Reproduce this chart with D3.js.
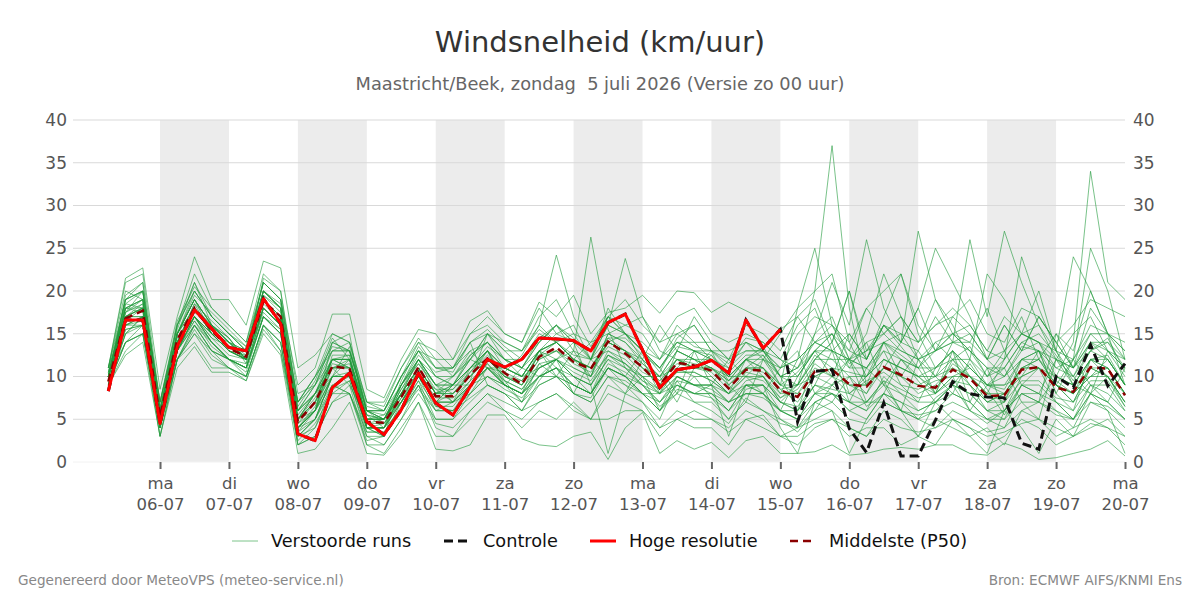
<!DOCTYPE html>
<html>
<head>
<meta charset="utf-8">
<script src="https://cdn.jsdelivr.net/npm/d3@7"></script>
<style>
  body { margin: 0; background: #fff; font-family: "DejaVu Sans", sans-serif; }
  .axis text { fill: #555; font-size: 16px; font-family: "DejaVu Sans", sans-serif; }
  .axis path { display: none; }
  .axis line { stroke: #666; }
</style>
</head>
<body>
<div id="chart"></div>
<script>
// tijdstappen: uren na 05-07 00:00 (6-uurlijks)
var stepHours = 6, firstHour = 6;
var dayNames = ["ma","di","wo","do","vr","za","zo","ma","di","wo","do","vr","za","zo","ma"];
var dayDates = ["06-07","07-07","08-07","09-07","10-07","11-07","12-07","13-07","14-07","15-07","16-07","17-07","18-07","19-07","20-07"];
var yTicks = [0,5,10,15,20,25,30,35,40];

// Hoge resolutie (tot 15-07 00:00)
var hires = [8.3,16.6,16.6,4.5,13.5,17.8,15.6,13.4,13.0,19.1,16.2,3.3,2.5,8.7,10.4,4.7,3.2,6.1,10.4,6.9,
  5.5,8.8,12.0,11.1,12.0,14.5,14.4,14.2,13.0,16.3,17.3,13.1,8.7,10.8,11.1,11.9,10.4,16.6,13.3,15.5];

// Controle
var controle = [8.3,16.6,16.6,4.5,13.5,17.8,15.6,13.4,13.0,19.1,16.2,3.3,2.5,8.7,10.4,4.7,3.2,6.1,10.4,6.9,
  5.5,8.8,12.0,11.1,12.0,14.5,14.4,14.2,13.0,16.3,17.3,13.1,8.7,10.8,11.1,11.9,10.4,16.6,13.3,15.5,
  4.7,10.6,10.8,3.9,1.1,6.9,0.7,0.7,4.9,9.4,8.0,7.6,7.5,2.2,1.5,10.0,8.7,13.7,8.9,11.5];

// Middelste (P50)
var mediaan = [9.4,16.8,17.7,5.3,14.3,18.0,15.4,13.3,12.3,18.8,17.0,4.7,7.0,11.2,10.9,4.7,4.6,7.6,11.1,7.7,
  7.7,10.2,12.1,10.4,9.1,12.3,13.4,11.7,10.9,14.1,12.7,11.1,9.0,11.6,11.3,10.7,8.6,10.8,10.7,8.4,
  7.6,10.6,10.8,9.1,8.8,11.1,10.2,8.9,8.7,10.8,9.8,7.7,7.8,10.8,11.1,8.7,8.2,11.1,10.9,7.8];

// Verstoorde runs
var runs = [
 [10,18,19,5,15,19,16,14,12,20, 18,4,6,12,12,4,4,8,12,9, 7,11,13,9,8,13,14,12,10,15, 14,12,8,13,12,10,8,12,10,7, 6,12,14,8,10,13,9,7,11,12, 9,6,7,12,13,8,6,12,10,7],
 [10,16,17,6,13,17,14,12,11,18, 16,6,8,10,10,6,5,7,10,7, 9,9,11,11,10,11,12,13,12,13, 12,10,10,11,13,12,10,10,12,9, 9,10,9,10,8,12,11,10,8,10, 11,9,9,10,11,10,9,10,12,9],
 [11,21,22,7,16,22,18,16,14,22, 20,8,9,14,13,7,6,10,13,10, 9,12,15,12,11,14,16,14,13,17, 15,13,11,14,14,12,11,13,13,10, 11,15,17,12,14,15,13,12,14,15, 13,10,12,15,16,12,11,14,13,10],
 [9,13,15,3,12,15,12,11,10,16, 13,2,3,7,9,2,2,5,8,5, 5,7,9,8,6,9,10,9,8,11, 10,8,6,9,8,8,6,9,8,5, 4,7,8,6,5,8,7,5,6,8, 7,5,4,8,7,6,4,8,7,5],
 [10,17,18,4,14,18,15,13,12,19, 17,3,5,10,12,4,4,7,11,7, 8,10,12,10,9,12,13,11,10,14, 13,11,9,12,11,11,9,11,11,8, 12,20,37,18,9,11,10,9,8,12, 10,7,8,11,12,9,7,11,10,8],
 [9.5,19.5,21,6,15.5,21,16,14.5,12,21.5, 20,6.5,9.5,14.5,12,5.5,4,9.5,13.5,11, 10.5,14,9,8,6,9.5,12,8,7.5,11, 9,7,5,9.5,7,6,4.5,7.5,6,5, 3.5,6,9,12,7,9.5,6,5,7.5,9, 6,4.5,6,8,7,10,14,34,21,19],
 [10,14,15,5.5,12,15.5,12.5,11,10,16, 14,2.5,4.5,8,9.5,3,3,6,9.5,5, 5,8,11,10.5,12.5,16,24.2,17,13.5,17, 15,13,10.5,14.5,16,13,11.5,14,13,12, 10,13,15,11.5,13,16,13.5,11,14,12, 13.5,10,11,14,15,12.5,9.5,13,14.5,10.5],
 [10.5,17.5,20,5,15,19.5,17.5,15.5,13.5,20, 18.5,4,6,12.5,12.5,4.5,5,8.5,11.5,9, 8,10.5,13,9.5,7,11.5,10,13,26.3,15.5, 11,9,6.5,8,10,7.5,5,8.5,9,6, 5,8,7,10,6.5,8,12,9.5,7,9, 11.5,8.5,5.5,9,11,7,5,8,10,6.5],
 [9,16,16.5,6,14,17,14.5,12.5,12,18, 16,5,8,11,9,5,5.5,7,10.5,7, 9,11,13.5,12,10,13,15,14,12,16, 23.8,17,13,12,11,12.5,9.5,12,13.5,10, 9,12.5,11,10.5,10,14,12,10,8.5,11.5, 10,9,8.5,12,13,9.5,8,12,12.5,9],
 [10,19,21,6,16,21,17,15,13,21, 19,7,9,14,13,6,6,10,14,11, 11,14,15,13,13,16,14,12,14,15, 16,17,14,15,16,13,13,14,12,11, 15,17,16,14,18,20,22,16,13,15, 16,13,12,15,14,11,12,16,15,13],
 [9,15,16,4,12,16,13,12,11,17, 15,2,4,8,8,3,2,5,9,4, 3,5,7,6,4,6,5,7,5,8, 7,6,3,5,4,4,2,5,4,3, 2,4,5,3,4,4,2,3,2,5, 4,2,3,5,4,2,3,4,5,3],
 [10,17,17,5,14,17,15,13,12,18, 16,5,8,13,14,6,5,9,12,9, 10,12,14,11,10,13,11,10,9,12, 11,9,7,10,9,8,6,9,8,6, 5,8,9,7,6,10,8,6,7,9, 8,6,5,9,8,7,5,9,8,6],
 [11,20,19,7,15,19,16,14,12,20, 18,5,6,14,15,4,3,9,13,12, 12,15,16,14,13,17,19,15,12,18, 15,12,16,13,17,14,12,16,15,13, 17,19,14,20,13,15,17,14,19,15, 14,18,13,17,12,15,13,20,15,14],
 [9,14,15,4,12,15,13,11,10,16, 14,3,5,9,10,4,4,6,9,6, 7,8,10,9,7,10,11,9,8,11, 10,8,7,9,8,9,7,8,8,6, 10,13,15,11,14,9,12,11,8,10, 6,9,11,7,5,12,9,8,6,4],
 [10,18.5,18,5,14,18.5,16.5,14.5,11.5,19.5, 17.5,6,9,12,12.5,5,5,8.5,12,10, 9,12.5,14,12,11,14.5,16,13,10,15, 14,11.5,10,13,12,11,9.5,11,12.5,9, 10.5,13,12,12,11,14,12.5,11,13,15, 13,11,10,13.5,13,11,10,13,14,11],
 [10.5,17.5,18.5,4.5,15,19,15,13,12.5,20, 18,3.5,5,10,13.5,6,4.5,8,10,8.5, 7,9.5,15,13,11,13,12,10,8,12.5, 11,10,8,10,9,8.5,7,9.5,10,7, 9,15,21,16,26,18,14,27,19,16, 12,9,10,13,14,10,9,12,11,8],
 [10,16.5,18,5,14,18,15,13,12,19, 17,5,7.5,11.5,11,5.5,5,8,11,8, 8.5,10.5,12.5,10.5,9.5,12.5,13,11.5,10.5,13.5, 12.5,10.5,9.5,11.5,11,10.5,8.5,11,10.5,8.5, 7,10,11,9,8,11,10,9,10,14, 26,17,27,21,16,13,10,14,12,9],
 [9,15.5,16,4,13.5,16.5,14,12,11.5,17.5, 15.5,4.5,7,10,10,4,4,7.5,10.5,6.5, 6.5,9,11.5,9,8,11,12,10,9,13, 11.5,9.5,8,11,10,10,8,10,9.5,7.5, 8.5,11.5,10,8,9.5,10.5,9,8.5,9.5,10, 10,8,12,24,18,13,24,20,15,9],
 [10,18,19,6,15,19,16,14,13,20, 18,6,8,12,12,6,5,9,12,9, 9,11,13,11,10,13,14,12,11,14, 13,11,10,12,12,11,10,12,11,9, 18,25,16,12,15,22,17,12,10,11, 9,7,8,10,11,9,8,10,11,8],
 [9,16,17,4,13,17,14,12,11,18, 16,3,5,10,10,4,3,7,10,6, 6,9,11,9,8,11,12,10,9,1, 8,10,6,10,9,9,3,9,9,4, 1,7,6,1,5,8,6,3,7,5, 3,1,6,4,1,5,3,7,6,1],
 [10,17,18.5,6,15,18,16,14,12.5,19, 17,5,7,12,11,5,5,8,11,8, 9,11,12,10,9,12,13,12,11,14, 13,11,9,12,11,11,9,11,11,9, 8,11,10,9,9,11,10,8,9,11, 10,8,7,11,11,9,7,11,10,7],
 [10,17,18,5,14,18,15,13,12,19, 17,5,7,11,12,5,5,8,11,8, 8,10,13,11,10,13,14,12,11,14, 15,13,11,14,13,12,10,12,13,10, 11,14,15,13,12,16,15,14,16,17, 19,15,14,18,17,14,16,19,18,17],
 [9,16,16,5,13,16,14,12,11,17, 15,4,6,10,10,4,4,7,10,7, 7,9,11,9,8,10,10,9,8,11, 10,9,8,10,9,9,8,9,9,7, 6,9,8,7,7,9,8,7,7,9, 8,6,6,9,9,7,6,9,9,6],
 [10,18,17.5,5.5,14.5,17.5,16,14.5,12,19, 16.5,7,10,13,13,6,5.5,9,12.5,10.5, 11,13,11,9,8,10,11,8,7,10, 9,8,6,8,7,7,5,7,6,4.5, 4,6,7,5,4.5,7,6,5,4,6, 5,3.5,4,6,7,15,11,13,12,9],
 [10,17,17,5,14,17,15,13,12,18, 16,4.5,6,10,10.5,4,4.5,7,10,7, 7,9,11,9.5,8.5,11,12,10.5,9.5,12.5, 11.5,10,8.5,10.5,10.5,9.5,8,10.5,10,8, 8,10,11,9,9,11,14,18,25,21, 17,12,10,12,11,9,8,11,11,8],
 [9,17.5,19,5,14,18.5,15,14,13,19.5, 18,5.5,8,11,11.5,5.5,5,9,11.5,8.5, 8.5,11,13,10,9.5,12.5,14,12,11,14.5, 13,11.5,9.5,12,11.5,11,9.5,12,11,8.5, 9,12,12,10,10,12,11,10,10,12, 12,22,19,15,20,13,9,12,11,8],
 [10,18,19,6,15,19,16,14,12,19, 17,5,7,12,12,5,5,8,11,8, 10,12.5,14,12,12,15,14,12.5,12,14.5, 14.5,12.5,11,13.5,13,12.5,10.5,12.5,12.5,10, 10,13,13,11,11,13,12,11,11,13, 10,8,8,11,11,9,12,25,20,12],
 [11,17,18,4.5,13,17,14.5,13.5,12,18.5, 16.5,4,6.5,11,11,4.5,4.5,7.5,10.5,7.5, 7.5,9.5,11.5,9.5,8.5,11.5,12,11,10,12.5, 11.5,9.5,8.5,10.5,10.5,9.5,8,10,10,7.5, 9,12,14,20,12,17,22,15,11,13, 11,9,8,11,12,9,8,10,10,7],
 [9,15,17,4,13,17,14,12,11,17, 15,4,6,10,10,4,4,7,10,7, 7,9,10,9,8,10,11,9,8,11, 10,8,8,9,8,8,7,8,8,6, 6,8,8,7,6,8,7,6,7,8, 7,5,6,8,8,6,5,8,7,5],
 [10,18,18,6,15,18,16,14,12,19, 17,6,8,12,12,6,6,9,12,9, 9,11,13,11,10,13,14,12,11,14, 13,12,10,13,12,12,10,12,12,15, 18,20,22,14,10,12,11,10,11,13, 11,9,9,12,12,10,9,12,12,9],
 [10,19,20,7,16,20,17,15,13,20, 18,7,10,15,14,7,7,11,14,13, 11,15,17,15,14,18,15,16,12,17, 19,16,14,17,18,15,14,15,14,12, 11,13,10,15,12,16,14,13,17,14, 15,12,16,13,17,14,11,15,13,11],
 [9,14,16,3,12,16,13,12,10,16, 14,2,3,7,8,2,1,4,7,3, 3,6,8,6,5,7,8,6,5,5, 6,6,4,5,6,5,4,6,5,3, 4,5,6,4,3,6,5,3,5,4, 3,4,2,6,5,3,4,5,4,2],
 [10,17,18,5,14,18,15,13,12,19, 17,4,6,11,11,4,4,8,11,8, 8,10,12,10,9,13,10,8,12,10, 8,12,10,7,11,13,9,7,12,10, 6,9,13,7,11,9,6,12,8,13, 7,11,6,10,13,8,12,9,7,11],
 [10,16,17,5,14,17,15,13,12,18, 16,5,8,12,11,5,5,8,12,8, 9,12,11,9,11,10,12,14,9,12, 10,13,11,8,13,9,12,10,8,11, 13,8,10,12,9,14,10,13,10,8, 12,10,13,9,8,12,10,8,13,11],
 [11,19,20,6,15,20,17,15,13,21, 19,6,9,13,13,6,6,10,13,10, 10,13,14,12,11,14,16,14,13,16, 15,13,12,14,13,13,12,13,13,11, 12,14,13,12,11,14,13,12,13,14, 13,11,11,14,13,12,11,14,14,12],
 [10.5,19,20,7,16.5,20.5,18,16,14,21, 19,9,11,17.3,17.3,8.5,7.5,12,15.5,15, 12,16.5,17.7,15,14,18.7,17,19.5,15,17.5, 18,19.5,17.4,20,19.8,17.5,18.7,17.7,16.7,15.5, 17,14,16,13,18,15,17,14,16,18, 16,13,17,15,14,12,15,17,13,12],
 [9,12.5,14,3,11,13.5,10.5,10.5,9.5,15, 12.5,1,1.5,4,7,1,0.8,3.3,7,1.5, 1.3,2,5.5,5.5,2.7,2,1.8,3,3.5,0.3, 4,5.8,1,2.5,1.5,2.3,0.5,2.5,3,1, 1,1.2,2,0.8,1,1.5,1.7,1.5,2,2, 1,0.8,2.2,1.5,0.3,0.5,1,1.5,2.5,0.7],
 [9.5,15,17,4,13,16,13,12,11,17, 15.5,3,4,9,8,2.5,3,6,9,4.5, 4,6,8,7,6,7,8,6.5,5,9, 8,7,4,6,5,5,3.5,5,5.5,3, 3,4.5,5,4,3,5,4,3.5,4,5, 4,3,3.5,4.5,5,4,3,4.5,4,3],
 [11,21.5,22.7,8.5,17,24,19,19,16,23.5, 22.7,11,12.5,15,14,7,6.5,11,14.5,12, 10,12,15,14,13,15.5,14,15,14,17, 16,15,12,15,13.5,13,11,14,13,11, 12,14,13,12,13,14,15,12,13,14, 14,12,13,15,14,13,12,15,15,12],
 [9,14,15,4,12,14,11,11,9.5,15.5, 13,3.5,6,9,8,3.5,3.5,6,8.5,6, 6,7.5,9,8,7,9,10,8,7,10, 9.5,8,6,8.5,8,7.5,6,8,7.5,6, 5,7,8,6,7,7,6,5.5,6,7, 6,5,5,7,7,5.5,5,7,6.5,5],
 [10,18.5,20,6.5,16,20,17,15,13.5,21, 19,7,10,13.5,13,6.5,6,10,13,11, 11,14,15.5,13.5,12,14,16,14.5,12,16, 15,14,12,16,14,14,12,14.5,14,12, 16,18,13,15,12,16,14,18,13,17, 15,12,16,13,17,14,11,18,15,13],
 [9.5,15.5,16,4.5,13,16.5,13.5,12,10.5,17, 15,4,5,8.5,9.5,3.5,3.5,6.5,9.5,6.5, 6,8,10,8.5,7.5,10,11,9,8,11.5, 10.5,9,7,9.5,9,9,7,9,9,7, 6.5,9,8.5,8,7,9.5,8.5,7.5,8,9.5, 9,7,7,9.5,9.5,7.5,7,9.5,9.5,6.5]
];

(function(){
var width = 1200, height = 600;
var pLeft = 73, pRight = 1125, pTop = 120, pBottom = 462;

var svg = d3.select("#chart").append("svg")
  .attr("width", width)
  .attr("height", height)
  .style("font-family", "'DejaVu Sans', sans-serif");

var x = d3.scaleLinear().domain([-6.3, 360]).range([pLeft, pRight]);
var y = d3.scaleLinear().domain([0, 40]).range([pBottom, pTop]);

function hourOf(i) { return firstHour + i * stepHours; }
var dayHours = dayDates.map(function(d, i){ return 24 * (i + 1); });

// grijze banden om de dag
var bands = dayHours.filter(function(h, i){ return i % 2 == 0 && i < dayHours.length - 1; });
svg.selectAll(".band").data(bands).enter().append("rect")
  .attr("class", "band")
  .attr("x", function(d){ return x(d); })
  .attr("width", function(d){ return x(d + 24) - x(d); })
  .attr("y", pTop)
  .attr("height", pBottom - pTop)
  .attr("fill", "#ececec");

// rasterlijnen
svg.selectAll(".grid").data(yTicks).enter().append("line")
  .attr("class", "grid")
  .attr("x1", pLeft).attr("x2", pRight)
  .attr("y1", function(d){ return y(d); })
  .attr("y2", function(d){ return y(d); })
  .attr("stroke", function(d){ return d == 0 ? "#f2f2f2" : "#d9d9d9"; })
  .attr("stroke-width", 1);

// assen
svg.append("g").attr("class", "axis")
  .attr("transform", "translate(" + pLeft + ",0)")
  .call(d3.axisLeft(y).tickValues(yTicks).tickSize(0).tickPadding(6));
svg.append("g").attr("class", "axis")
  .attr("transform", "translate(" + pRight + ",0)")
  .call(d3.axisRight(y).tickValues(yTicks).tickSize(0).tickPadding(8));
svg.selectAll(".axis text").style("font-size", "17px");

var xa = svg.append("g").attr("class", "axis")
  .attr("transform", "translate(0," + pBottom + ")")
  .call(d3.axisBottom(x).tickValues(dayHours).tickSize(7).tickFormat(""));
xa.selectAll("line").attr("stroke", "#666").attr("stroke-width", 2);
xa.selectAll(".tick").append("text")
  .attr("fill", "#555")
  .attr("text-anchor", "middle")
  .style("font-size", "16.5px")
  .each(function(d, i){
    var t = d3.select(this);
    t.append("tspan").attr("x", 0).attr("y", 27).text(dayNames[i]);
    t.append("tspan").attr("x", 0).attr("y", 48).text(dayDates[i]);
  });

var line = d3.line()
  .x(function(d, i){ return x(hourOf(i)); })
  .y(function(d){ return y(d); });

// verstoorde runs
svg.append("g").selectAll(".run").data(runs).enter().append("path")
  .attr("class", "run")
  .attr("d", line)
  .attr("fill", "none")
  .attr("stroke", "#1f9a3a")
  .attr("stroke-opacity", 0.6)
  .attr("stroke-width", 1);

svg.append("path").datum(mediaan)
  .attr("d", line).attr("fill", "none")
  .attr("stroke", "#8b0000").attr("stroke-width", 2.5)
  .attr("stroke-dasharray", "8,5");

svg.append("path").datum(controle)
  .attr("d", line).attr("fill", "none")
  .attr("stroke", "#111").attr("stroke-width", 3)
  .attr("stroke-dasharray", "9,5");

svg.append("path").datum(hires)
  .attr("d", line).attr("fill", "none")
  .attr("stroke", "#ff0000").attr("stroke-width", 3)
  .attr("stroke-linejoin", "round");

// titels
svg.append("text").attr("x", 600).attr("y", 52).attr("text-anchor", "middle")
  .attr("fill", "#333").style("font-size", "29px").text("Windsnelheid (km/uur)");
svg.append("text").attr("x", 600).attr("y", 90).attr("text-anchor", "middle")
  .attr("fill", "#666").style("font-size", "17.8px").text("Maastricht/Beek, zondag\u00a0 5 juli 2026 (Versie zo 00 uur)");

// legenda
var legend = [
  {label: "Verstoorde runs", x: 232, color: "#7cc48a", w: 1, dash: null},
  {label: "Controle", x: 444, color: "#111", w: 3, dash: "9,5"},
  {label: "Hoge resolutie", x: 590, color: "#ff0000", w: 3, dash: null},
  {label: "Middelste (P50)", x: 790, color: "#8b0000", w: 2.5, dash: "8,5"}
];
var lg = svg.selectAll(".leg").data(legend).enter().append("g")
  .attr("class", "leg")
  .attr("transform", function(d){ return "translate(" + d.x + ",541)"; });
lg.append("line").attr("x1", 0).attr("x2", 26).attr("y1", 0).attr("y2", 0)
  .attr("stroke", function(d){ return d.color; })
  .attr("stroke-width", function(d){ return d.w; })
  .attr("stroke-dasharray", function(d){ return d.dash; });
lg.append("text").attr("x", 39).attr("y", 6).attr("fill", "#111")
  .style("font-size", "17.7px").text(function(d){ return d.label; });

// voettekst
svg.append("text").attr("x", 18).attr("y", 585).attr("fill", "#888")
  .style("font-size", "13.6px").text("Gegenereerd door MeteoVPS (meteo-service.nl)");
svg.append("text").attr("x", 1182).attr("y", 585).attr("text-anchor", "end").attr("fill", "#888")
  .style("font-size", "13.6px").text("Bron: ECMWF AIFS/KNMI Ens");
})();
</script>
</body>
</html>
